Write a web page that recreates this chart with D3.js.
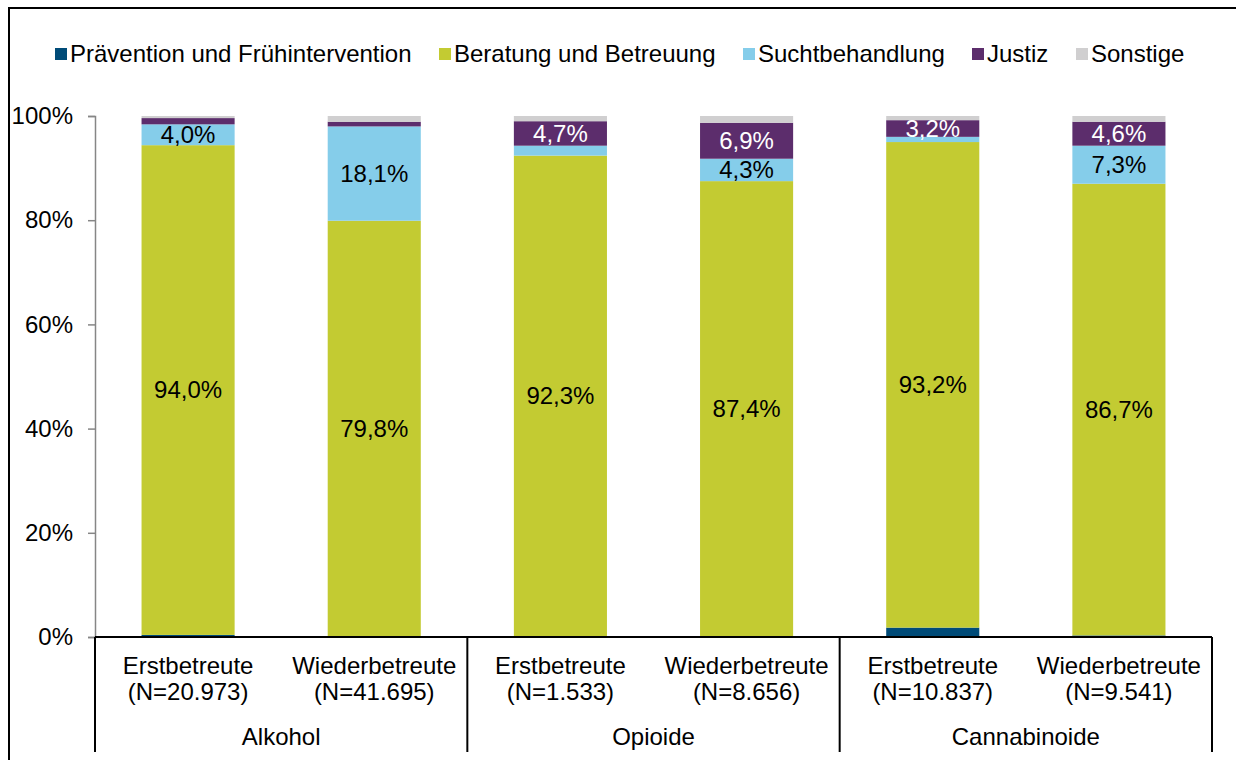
<!DOCTYPE html>
<html>
<head>
<meta charset="utf-8">
<script src="https://cdn.jsdelivr.net/npm/d3@7"></script>
<style>
  body { margin: 0; background: #fff; }
  svg text { font-family: 'Liberation Sans', Arial, sans-serif; }
</style>
</head>
<body>
<script>
var w = 1236, h = 760;

// data (percent shares per bar)
var groups = ['Alkohol', 'Opioide', 'Cannabinoide'];
var barNames = ['Erstbetreute', 'Wiederbetreute', 'Erstbetreute', 'Wiederbetreute', 'Erstbetreute', 'Wiederbetreute'];
var barN = ['(N=20.973)', '(N=41.695)', '(N=1.533)', '(N=8.656)', '(N=10.837)', '(N=9.541)'];
var seriesNames = ['Prävention und Frühintervention', 'Beratung und Betreuung', 'Suchtbehandlung', 'Justiz', 'Sonstige'];
var praevention = [0.4, 0.1, 0.1, 0.1, 1.8, 0.3];
var beratung    = [94.0, 79.8, 92.3, 87.4, 93.2, 86.7];
var sucht       = [4.0, 18.1, 1.9, 4.3, 1.0, 7.3];
var justiz      = [1.2, 0.9, 4.7, 6.9, 3.2, 4.6];
var sonstige    = [0.4, 1.1, 1.0, 1.3, 0.8, 1.1];
var yTicks = [0, 20, 40, 60, 80, 100];

var colors = ['#004b78', '#c3cb32', '#85cdea', '#5c2d6c', '#d0cfd0'];
var labelColors = [null, '#000', '#000', '#fff', null];
var fs = '24px';

var keys = ['p', 'b', 's', 'j', 'o'];
var rows = barNames.map(function(d, i){
  return { id: i, p: praevention[i], b: beratung[i], s: sucht[i], j: justiz[i], o: sonstige[i] };
});

var x0 = 95, x1 = 1212, yTop = 116, yBottom = 637;

var xScale = d3.scaleBand()
  .domain(rows.map(function(d){ return d.id; }))
  .range([x0, x1])
  .paddingInner(0.5)
  .paddingOuter(0.25);

var yScale = d3.scaleLinear()
  .domain([0, 100])
  .range([yBottom, yTop]);

var stack = d3.stack().keys(keys);
var series = stack(rows);

var svg = d3.select('body')
  .append('svg')
  .attr('width', w)
  .attr('height', h);

// frame (left and top)
svg.append('path')
  .attr('d', 'M9,' + h + 'V8H' + w)
  .attr('fill', 'none')
  .attr('stroke', '#000')
  .attr('stroke-width', 2);

// bars
svg.selectAll('g.layer')
  .data(series)
  .enter()
  .append('g')
  .attr('class', 'layer')
  .attr('fill', function(d, i){ return colors[i]; })
  .selectAll('rect')
  .data(function(d){ return d; })
  .enter()
  .append('rect')
  .attr('x', function(d){ return xScale(d.data.id); })
  .attr('y', function(d){ return yScale(d[1]); })
  .attr('width', xScale.bandwidth())
  .attr('height', function(d){ return yScale(d[0]) - yScale(d[1]); });

// value labels
series.forEach(function(s, si){
  if (!labelColors[si]) return;
  svg.append('g')
    .selectAll('text')
    .data(s.filter(function(d){ return d[1] - d[0] >= 3; }))
    .enter()
    .append('text')
    .attr('x', function(d){ return xScale(d.data.id) + xScale.bandwidth() / 2; })
    .attr('y', function(d){ return yScale((d[0] + d[1]) / 2); })
    .attr('dy', '0.35em')
    .attr('text-anchor', 'middle')
    .attr('font-size', fs)
    .attr('fill', labelColors[si])
    .text(function(d){ return (d[1] - d[0]).toFixed(1).replace('.', ',') + '%'; });
});

// y axis
var yAxis = d3.axisLeft(yScale)
  .tickValues(yTicks)
  .tickSize(7)
  .tickPadding(15)
  .tickFormat(function(d){ return d + '%'; });

var gy = svg.append('g')
  .attr('transform', 'translate(' + x0 + ',0)')
  .call(yAxis);
gy.select('.domain').attr('stroke', '#868686').attr('stroke-width', 1.5);
gy.selectAll('.tick line').attr('stroke', '#868686').attr('stroke-width', 1.5);
gy.selectAll('.tick text')
  .attr('font-size', fs)
  .attr('fill', '#000')
  .style('font-family', "'Liberation Sans', Arial, sans-serif");

// x baseline
svg.append('line')
  .attr('x1', x0).attr('x2', x1)
  .attr('y1', yBottom).attr('y2', yBottom)
  .attr('stroke', '#000')
  .attr('stroke-width', 2);

// group separators
var step = xScale.step();
d3.range(groups.length + 1).forEach(function(i){
  var xx = x0 + i * 2 * step;
  svg.append('line')
    .attr('x1', xx).attr('x2', xx)
    .attr('y1', yBottom).attr('y2', 752)
    .attr('stroke', '#000')
    .attr('stroke-width', 2);
});

// category labels
var cat = svg.append('g')
  .selectAll('text')
  .data(rows)
  .enter()
  .append('text')
  .attr('text-anchor', 'middle')
  .attr('font-size', fs)
  .attr('fill', '#000');
cat.append('tspan')
  .attr('x', function(d){ return xScale(d.id) + xScale.bandwidth() / 2; })
  .attr('y', 674)
  .text(function(d){ return barNames[d.id]; });
cat.append('tspan')
  .attr('x', function(d){ return xScale(d.id) + xScale.bandwidth() / 2; })
  .attr('y', 700)
  .text(function(d){ return barN[d.id]; });

svg.append('g')
  .selectAll('text')
  .data(groups)
  .enter()
  .append('text')
  .attr('x', function(d, i){ return x0 + (2 * i + 1) * step; })
  .attr('y', 745)
  .attr('text-anchor', 'middle')
  .attr('font-size', fs)
  .attr('fill', '#000')
  .text(function(d){ return d; });

// legend
var legendX = [55, 439, 743, 972, 1076];
var legend = svg.append('g')
  .selectAll('g')
  .data(seriesNames)
  .enter()
  .append('g')
  .attr('transform', function(d, i){ return 'translate(' + legendX[i] + ',54)'; });
legend.append('rect')
  .attr('x', 0).attr('y', -6)
  .attr('width', 12).attr('height', 12)
  .attr('fill', function(d, i){ return colors[i]; });
legend.append('text')
  .attr('x', 15)
  .attr('dy', '0.35em')
  .attr('font-size', fs)
  .attr('fill', '#000')
  .text(function(d){ return d; });
</script>
</body>
</html>
